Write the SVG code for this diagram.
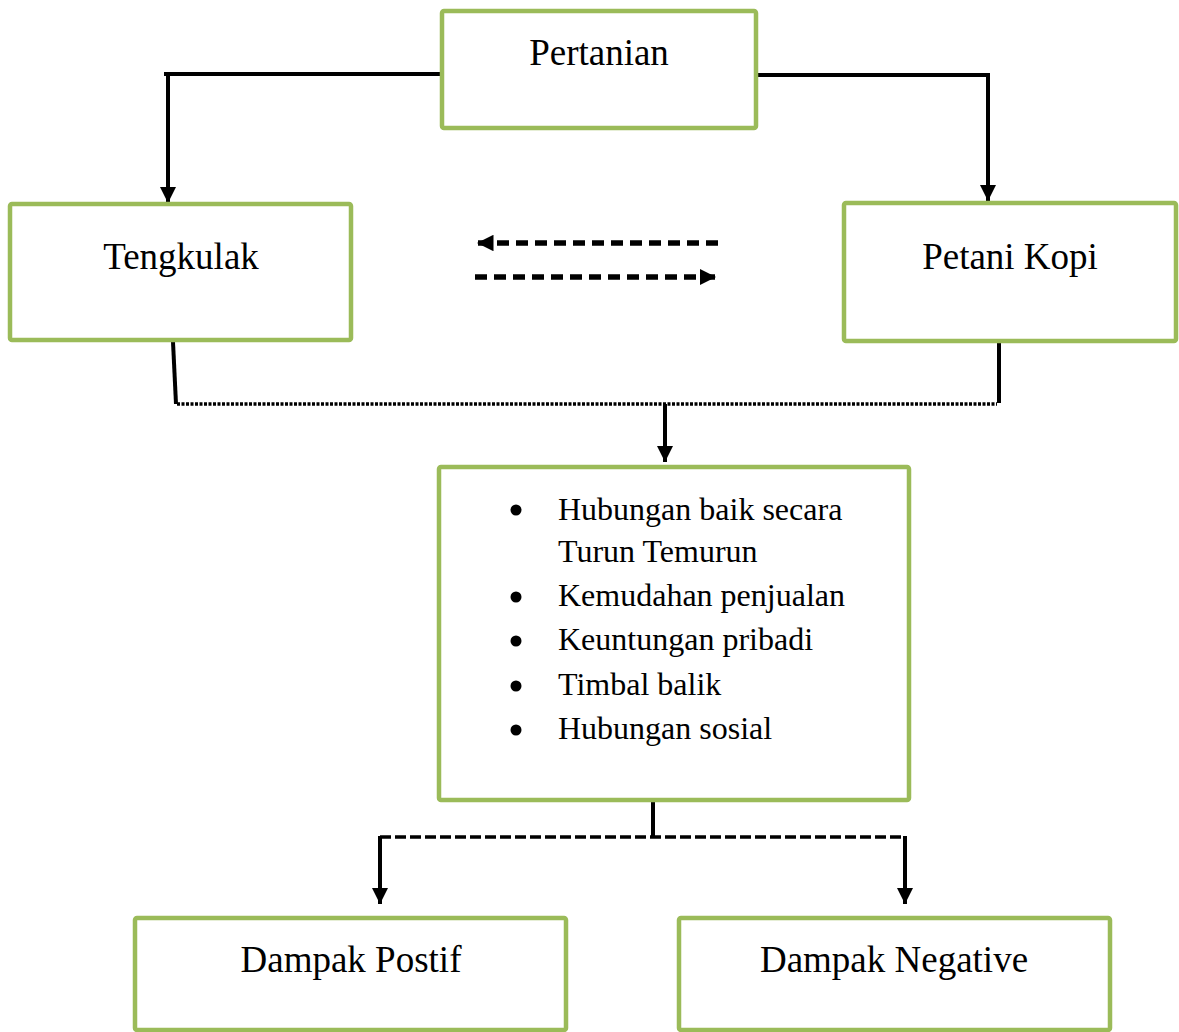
<svg xmlns="http://www.w3.org/2000/svg" width="1179" height="1032" viewBox="0 0 1179 1032">
<style>
.box{fill:#fff;stroke:#9BBB59;stroke-width:4.5}
.t{font-family:"Liberation Serif","Times New Roman",serif;font-size:37px;fill:#000;text-anchor:middle}
.li{font-family:"Liberation Serif","Times New Roman",serif;font-size:32px;fill:#000}
.ln{fill:none;stroke:#000;stroke-width:4}
.dash{fill:none;stroke:#000;stroke-width:5.5;stroke-dasharray:12 7}
.dot{fill:none;stroke:#000;stroke-width:3.5;stroke-dasharray:3 1.5}
.dash2{fill:none;stroke:#000;stroke-width:3.5;stroke-dasharray:11 4}
</style>
<defs>
<marker id="ah" viewBox="0 0 10 10" refX="10" refY="5" markerWidth="4" markerHeight="4" orient="auto" markerUnits="strokeWidth">
<path d="M0,0 L10,5 L0,10 z" fill="#000"/>
</marker>
<marker id="ahd" viewBox="0 0 10 10" refX="10" refY="5" markerWidth="3" markerHeight="3" orient="auto" markerUnits="strokeWidth">
<path d="M0,0 L10,5 L0,10 z" fill="#000"/>
</marker>
</defs>
<g id="connectors">
<path class="ln" d="M164,74 H442"/>
<path class="ln" d="M168,72 V203" marker-end="url(#ah)"/>
<path class="ln" d="M756,75 H990"/>
<path class="ln" d="M988,73 V201" marker-end="url(#ah)"/>
<path class="dash" d="M718,243 H477" marker-end="url(#ahd)"/>
<path class="dash" d="M475,277 H716" marker-end="url(#ahd)"/>
<path class="ln" d="M173,342 L176,404"/>
<path class="ln" d="M999,343 V403"/>
<path class="dot" d="M177,404 H997"/>
<path class="ln" d="M665,404 V462" marker-end="url(#ah)"/>
<path class="ln" d="M653,801 V838"/>
<path class="dash2" d="M380,837 H905"/>
<path class="ln" d="M380,836 V904" marker-end="url(#ah)"/>
<path class="ln" d="M905,836 V904" marker-end="url(#ah)"/>
</g>
<g id="pertanian">
<rect class="box" x="442" y="11" width="314" height="117" rx="2"/>
<text class="t" x="599" y="65">Pertanian</text>
</g>
<g id="tengkulak">
<rect class="box" x="10" y="204" width="341" height="136" rx="2"/>
<text class="t" x="181" y="269">Tengkulak</text>
</g>
<g id="petani-kopi">
<rect class="box" x="844" y="203" width="332" height="138" rx="2"/>
<text class="t" x="1010" y="269">Petani Kopi</text>
</g>
<g id="faktor">
<rect class="box" x="439" y="467" width="470" height="333" rx="2"/>
<circle cx="516" cy="510" r="5.5"/>
<text class="li" x="558" y="520">Hubungan baik secara</text>
<text class="li" x="558" y="562">Turun Temurun</text>
<circle cx="516" cy="597" r="5.5"/>
<text class="li" x="558" y="606">Kemudahan penjualan</text>
<circle cx="516" cy="641" r="5.5"/>
<text class="li" x="558" y="650">Keuntungan pribadi</text>
<circle cx="516" cy="686" r="5.5"/>
<text class="li" x="558" y="695">Timbal balik</text>
<circle cx="516" cy="730" r="5.5"/>
<text class="li" x="558" y="739">Hubungan sosial</text>
</g>
<g id="dampak-positif">
<rect class="box" x="135" y="918" width="431" height="112" rx="2"/>
<text class="t" x="351" y="972">Dampak Postif</text>
</g>
<g id="dampak-negative">
<rect class="box" x="679" y="918" width="431" height="112" rx="2"/>
<text class="t" x="894" y="972">Dampak Negative</text>
</g>
</svg>
